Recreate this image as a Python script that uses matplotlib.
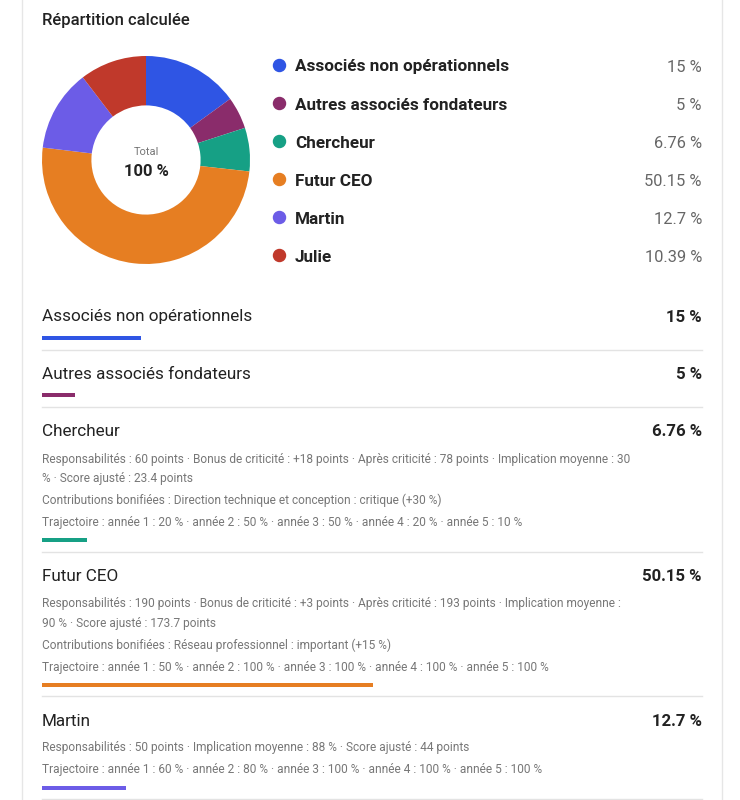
import matplotlib
matplotlib.use("Agg")
import matplotlib.pyplot as plt

plt.rcParams['font.family'] = ['Roboto', 'DejaVu Sans']

# donnees
labels = ["Associés non opérationnels", "Autres associés fondateurs", "Chercheur",
          "Futur CEO", "Martin", "Julie"]
shares = [15, 5, 6.76, 50.15, 12.7, 10.39]
share_txt = ["15 %", "5 %", "6.76 %", "50.15 %", "12.7 %", "10.39 %"]
colors = ["#2f55e4", "#8a2c6b", "#16a085", "#e67e22", "#6c5ce7", "#c0392b"]

# sections detaillees (paragraphes, deja coupes en lignes)
details = [
    [],
    [],
    [["Responsabilités : 60 points · Bonus de criticité : +18 points · Après criticité : 78 points · Implication moyenne : 30",
      "% · Score ajusté : 23.4 points"],
     ["Contributions bonifiées : Direction technique et conception : critique (+30 %)"],
     ["Trajectoire : année 1 : 20 % · année 2 : 50 % · année 3 : 50 % · année 4 : 20 % · année 5 : 10 %"]],
    [["Responsabilités : 190 points · Bonus de criticité : +3 points · Après criticité : 193 points · Implication moyenne :",
      "90 % · Score ajusté : 173.7 points"],
     ["Contributions bonifiées : Réseau professionnel : important (+15 %)"],
     ["Trajectoire : année 1 : 50 % · année 2 : 100 % · année 3 : 100 % · année 4 : 100 % · année 5 : 100 %"]],
    [["Responsabilités : 50 points · Implication moyenne : 88 % · Score ajusté : 44 points"],
     ["Trajectoire : année 1 : 60 % · année 2 : 80 % · année 3 : 100 % · année 4 : 100 % · année 5 : 100 %"]],
]

W, H = 740, 800
DY = 2  # petit decalage vertical du texte
fig = plt.figure(figsize=(W / 100, H / 100), dpi=100)
ax = fig.add_axes([0, 0, 1, 1])
ax.set_xlim(0, W)
ax.set_ylim(H, 0)
ax.axis("off")

def fig_rect(x0, y0, w, h):
    return [x0 / W, 1 - (y0 + h) / H, w / W, h / H]

# bordure de la carte
ax.plot([22, 22], [0, H], color="#e6e6e6", lw=1)
ax.plot([722, 722], [0, H], color="#e6e6e6", lw=1)

ax.text(42, 19 + DY, "Répartition calculée", fontsize=12, fontweight="medium",
        color="#222222", va="center", ha="left")

# donut
pax = fig.add_axes(fig_rect(42, 56, 208, 208))
pax.pie(shares, colors=colors, startangle=90, counterclock=False,
        wedgeprops=dict(width=0.475, linewidth=0))
pax.set_xlim(-1, 1)
pax.set_ylim(-1, 1)
pax.set_aspect("equal")
ax.text(146, 150 + DY, "Total", fontsize=8, color="#777777", ha="center", va="center")
ax.text(146, 169 + DY, "100 %", fontsize=12, fontweight="bold", color="#222222",
        ha="center", va="center")

# legende
for i, (lab, txt, c) in enumerate(zip(labels, share_txt, colors)):
    y = 65 + i * 38
    ax.scatter([279], [y], s=75, color=c, zorder=3)
    ax.text(295, y + DY, lab, fontsize=12.3, fontweight="bold", color="#222222",
            ha="left", va="center")
    ax.text(702, y + DY, txt, fontsize=11.8, color="#666666", ha="right", va="center")

# sections
y = 315
for i in range(5):
    ax.text(42, y + DY, labels[i], fontsize=12.3, color="#222222", ha="left", va="center")
    ax.text(702, y + DY, share_txt[i], fontsize=12.1, fontweight="bold", color="#222222",
            ha="right", va="center")
    if details[i]:
        ty = y + 27
        for p, para in enumerate(details[i]):
            if p > 0:
                ty += 22
            for k, line in enumerate(para):
                if k > 0:
                    ty += 19.5
                ax.text(42, ty + DY, line, fontsize=8.6, color="#777777",
                        ha="left", va="center")
        by = ty + 19.5
    else:
        by = y + 23
    bax = fig.add_axes(fig_rect(42, by - 2, 660, 4))
    bax.barh([0], [shares[i]], height=1, color=colors[i])
    bax.set_xlim(0, 100)
    bax.set_ylim(-0.5, 0.5)
    bax.axis("off")
    sy = by + 11.5
    ax.plot([42, 702], [sy, sy], color="#e3e3e3", lw=1)
    y = sy + 23

fig.savefig("out.png", dpi=100, facecolor="white")
